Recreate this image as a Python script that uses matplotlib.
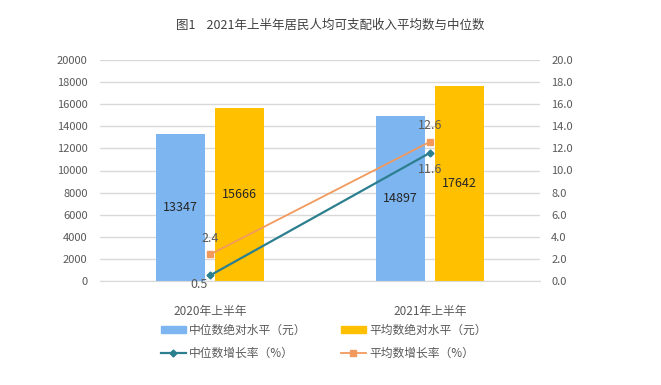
import matplotlib.pyplot as plt
import numpy as np
from matplotlib.patches import Patch
from matplotlib.lines import Line2D

plt.rcParams['font.family'] = ['Noto Sans CJK SC', 'DejaVu Sans']

#-----------------data----------------
periods = ['2020年上半年', '2021年上半年']
median_level = [13347, 14897]   # 中位数绝对水平（元）
mean_level = [15666, 17642]     # 平均数绝对水平（元）
median_growth = [0.5, 11.6]     # 中位数增长率（%）
mean_growth = [2.4, 12.6]       # 平均数增长率（%）
#-------------------------------------

blue, orange = '#7DB5F0', '#FFC000'
teal, salmon = '#2B7F8F', '#F29A5E'
grey = '#595959'

fig = plt.figure(figsize=(6.61, 3.85), dpi=100)
ax = fig.add_axes([100/661, 1-281/385, 440/661, 221/385])
ax2 = ax.twinx()

x = np.arange(len(periods))
w = 0.223
off = 0.134
b1 = ax.bar(x - off, median_level, w, color=blue, zorder=2)
b2 = ax.bar(x + off, mean_level, w, color=orange, zorder=2)
for bars in (b1, b2):
    for r in bars:
        ax.text(r.get_x() + r.get_width()/2, r.get_height()/2, f'{int(r.get_height())}',
                ha='center', va='center', fontsize=9, color='#262626')

ax2.plot(x, mean_growth, color=salmon, marker='s', ms=4.5, lw=1.3)
ax2.plot(x, median_growth, color=teal, marker='D', ms=3.5, lw=1.6)
# labels for the growth points
ax2.text(x[0] - 0.01, median_growth[0] - 0.25, f'{median_growth[0]}', ha='right', va='top', fontsize=9, color=grey)
ax2.text(x[0], mean_growth[0] + 0.9, f'{mean_growth[0]}', ha='center', va='bottom', fontsize=9, color=grey)
ax2.text(x[1], mean_growth[1] + 0.9, f'{mean_growth[1]}', ha='center', va='bottom', fontsize=9, color=grey)
ax2.text(x[1], median_growth[1] - 0.9, f'{median_growth[1]}', ha='center', va='top', fontsize=9, color=grey)

ax.set_xlim(-0.5, 1.5)
ax.set_ylim(0, 20000)
ax2.set_ylim(0, 20)
ax.set_yticks(np.arange(0, 20001, 2000))
ax2.set_yticks(np.arange(0, 20.1, 2))
ax2.set_yticklabels([f'{v:.1f}' for v in np.arange(0, 20.1, 2)])
ax.set_xticks(x)
ax.set_xticklabels(periods)

ax.grid(axis='y', color='#D9D9D9', lw=1, zorder=0)
for a in (ax, ax2):
    for s in a.spines.values():
        s.set_visible(False)
ax.spines['bottom'].set_visible(True)
ax.spines['bottom'].set_color('#D9D9D9')
ax.tick_params(axis='y', length=0, pad=9, labelsize=8, labelcolor=grey)
ax2.tick_params(axis='y', length=0, pad=8, labelsize=8, labelcolor=grey)
ax.tick_params(axis='x', length=0, pad=17, labelsize=8.5, labelcolor=grey)

fig.text(0.5, 1-25/385, '图1    2021年上半年居民人均可支配收入平均数与中位数',
         ha='center', va='center', fontsize=9, color='#404040')

handles = [Patch(color=blue, label='中位数绝对水平（元）'),
           Line2D([], [], color=teal, marker='D', ms=3.5, lw=1.6, label='中位数增长率（%）'),
           Patch(color=orange, label='平均数绝对水平（元）'),
           Line2D([], [], color=salmon, marker='s', ms=4.5, lw=1.3, label='平均数增长率（%）')]
leg = fig.legend(handles=handles, ncol=2, loc='upper left', bbox_to_anchor=(156/661, 1-319/385),
                 frameon=False, fontsize=8.5, handlelength=2.1, handleheight=0.45,
                 columnspacing=2.9, labelspacing=0.85, handletextpad=0.3, borderaxespad=0)
for t in leg.get_texts():
    t.set_color(grey)

fig.savefig('out.png', dpi=100)
